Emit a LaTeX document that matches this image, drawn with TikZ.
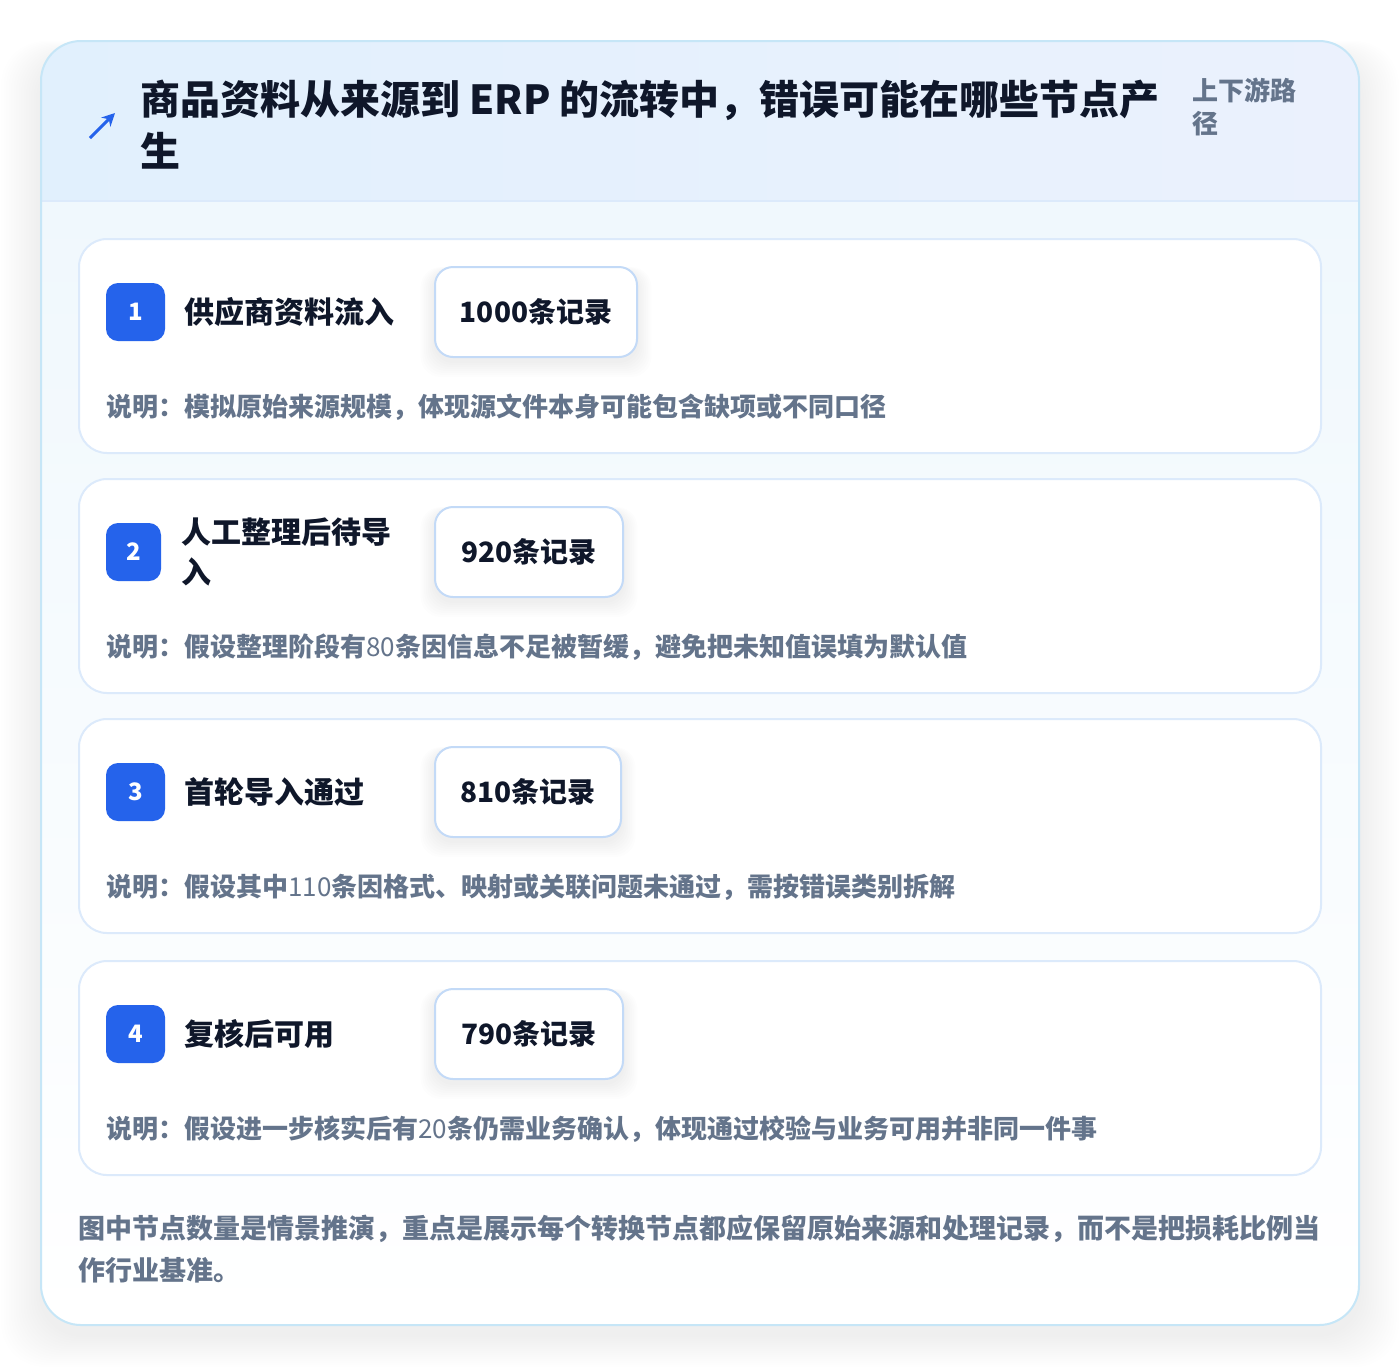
\documentclass[tikz,border=0pt]{standalone}
\usepackage{fontspec}
\setmainfont{Noto Sans CJK SC}
\usepackage{xcolor}
\usetikzlibrary{arrows.meta}
\definecolor{inkdark}{HTML}{0F172A}
\definecolor{inkgrey}{HTML}{64748B}
\definecolor{badgeblue}{HTML}{2563EB}
\definecolor{panelline}{HTML}{C6E6F7}
\definecolor{cardline}{HTML}{DCEAFB}
\definecolor{recline}{HTML}{C3DAF7}
\definecolor{headleft}{HTML}{E1F0FD}
\definecolor{headright}{HTML}{EBF1FD}
\definecolor{bodytop}{HTML}{F0F8FD}
\newcommand\lite[1]{{\mdseries #1}}

\begin{document}
\begin{tikzpicture}[x=0.5pt,y=-0.5pt,
  card/.style={draw=cardline,line width=1pt,fill=white,rounded corners=14pt},
  numbadge/.style={fill=badgeblue,rounded corners=6pt,text=white,font=\bfseries\fontsize{12}{12}\selectfont,inner sep=0pt,minimum height=29pt},
  steplabel/.style={text=inkdark,font=\bfseries\fontsize{15}{20}\selectfont,align=left,inner sep=0pt,anchor=west},
  recbox/.style={draw=recline,line width=1pt,fill=white,rounded corners=9pt,text=inkdark,font=\bfseries\fontsize{14}{14}\selectfont,minimum height=45pt,inner sep=0pt},
  note/.style={text=inkgrey,font=\bfseries\fontsize{13}{13}\selectfont,inner sep=0pt,anchor=west}]
\useasboundingbox (0,0) rectangle (1400,1366);
\fill[white] (0,0) rectangle (1400,1366);

% soft shadow under the panel
\foreach \i in {1,...,16}
  \fill[black,opacity=0.005,rounded corners=22pt] (41-\i*2.5,41+16-\i) rectangle (1359+\i*2.5,1325+10+\i*2);

\begin{scope}
\clip[rounded corners=20pt] (41,41) rectangle (1359,1325);
\fill[top color=bodytop,bottom color=white] (41,201) rectangle (1359,1325);
\fill[left color=headleft,right color=headright] (41,41) rectangle (1359,201);
\draw[cardline,line width=1pt] (41,201) -- (1359,201);
\end{scope}
\draw[panelline,line width=1pt,rounded corners=20pt] (41,41) rectangle (1359,1325);

\draw[badgeblue,line width=1.5pt,-{Stealth[length=6.5pt,width=6.5pt]}] (90,138) -- (115,113);
\node (title) [anchor=north west,inner sep=0pt,align=left,text=inkdark,font=\bfseries\fontsize{20}{26}\selectfont] at (140,80) {商品资料从来源到 ERP 的流转中，错误可能在哪些节点产\\生};
\node (route) [anchor=north west,inner sep=0pt,align=left,text=inkgrey,font=\bfseries\fontsize{13}{16.5}\selectfont] at (1192,78) {上下游路\\径};

\foreach \cy/\n/\bw/\lx/\lab/\rec/\rw/\desc in {
 239/1/59/184/{供应商资料流入}/{1000条记录}/202/{说明：模拟原始来源规模，体现源文件本身可能包含缺项或不同口径},
 479/2/55/181/{人工整理后待导\\入}/{920条记录}/188/{说明：假设整理阶段有\lite{80}条因信息不足被暂缓，避免把未知值误填为默认值},
 719/3/59/184/{首轮导入通过}/{810条记录}/186/{说明：假设其中\lite{110}条因格式、映射或关联问题未通过，需按错误类别拆解},
 961/4/59/184/{复核后可用}/{790条记录}/188/{说明：假设进一步核实后有\lite{20}条仍需业务确认，体现通过校验与业务可用并非同一件事}}
{
 \draw[card] (79,\cy) rectangle (1321,\cy+214);
 \node[numbadge,minimum width=\bw*0.5pt] (num\n) at (106+\bw/2,\cy+73) {\n};
 \node[steplabel] (lab\n) at (\lx,\cy+73) {\lab};
 \foreach \j in {1,...,8}
   \fill[black,opacity=0.007,rounded corners=10pt] (435-\j*1.8,\cy+32-\j*0.5) rectangle (435+\rw+\j*1.8,\cy+122+\j*2);
 \node[recbox,minimum width=\rw*0.5pt] (rec\n) at (435+\rw/2,\cy+73) {\rec};
 \node[note] (note\n) at (106,\cy+168) {\desc};
}

\node (foot) [anchor=north west,inner sep=0pt,align=left,text=inkgrey,font=\bfseries\fontsize{13.5}{21}\selectfont] at (78,1215) {图中节点数量是情景推演，重点是展示每个转换节点都应保留原始来源和处理记录，而不是把损耗比例当\\作行业基准。};
\end{tikzpicture}
\end{document}
